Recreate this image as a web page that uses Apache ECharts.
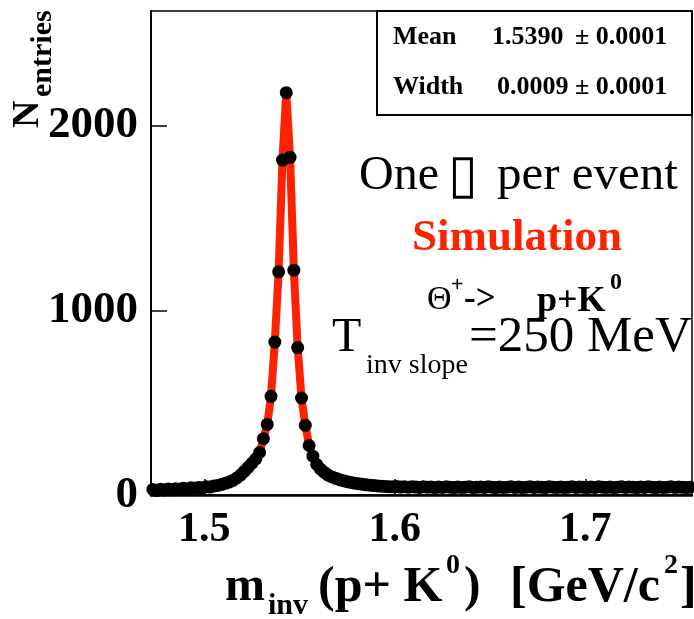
<!DOCTYPE html>
<html>
<head>
<meta charset="utf-8">
<script src="https://cdn.jsdelivr.net/npm/echarts@6/dist/echarts.min.js"></script>
<style>
  html, body { margin: 0; padding: 0; background: #fff; }
  #chart { width: 694px; height: 619px; }
</style>
</head>
<body>
<div id="chart"></div>
<script>
// Histogram binning of the invariant mass (GeV/c^2)
const binLow = 1.472;
const binWidth = 0.002;

// Entries per bin
const counts = [
  30, 24, 31, 27, 33, 28, 34, 31, 36, 33,
  39, 36, 41, 39, 45, 43, 49, 52, 57, 63,
  70, 79, 92, 108, 128, 150, 172, 195, 230, 305,
  382, 534, 828, 1208, 1813, 2178, 1828, 1217, 798, 525,
  377, 268, 210, 165, 140, 122, 108, 98, 90, 83,
  77, 72, 68, 64, 61, 58, 55, 53, 51, 49,
  48, 46, 45, 44, 46, 43, 45, 42, 44, 43,
  41, 44, 42, 43, 40, 43, 41, 44, 42, 40,
  43, 41, 42, 44, 40, 42, 43, 41, 44, 42,
  40, 43, 41, 42, 44, 41, 43, 40, 42, 44,
  41, 43, 42, 40, 44, 42, 41, 43, 40, 42,
  44, 41, 43, 42, 40, 43, 41, 44, 42, 41,
  43, 40, 42, 44, 41, 43, 42, 40, 43, 41,
  44, 42, 40, 43, 41, 42, 44, 41, 43, 42,
  40, 42
];

// Axis ticks
const xTicks = [1.5, 1.6, 1.7];
const yTicks = [0, 1000, 2000];

// Fit statistics
const statRows = [
  { name: 'Mean',  value: '1.5390', err: '\u00b1 0.0001' },
  { name: 'Width', value: '0.0009', err: '\u00b1 0.0001' }
];

const SERIF = '"Liberation Serif", "Times New Roman", serif';
const RED = '#ff2200';

const points = counts.map((c, i) => [binLow + (i + 0.5) * binWidth, c]);

function txt(text, x, y, size, weight, opts) {
  opts = opts || {};
  return {
    type: 'text',
    z: 100,
    style: {
      text: text,
      x: x,
      y: y,
      fontSize: size,
      fontWeight: weight,
      fontFamily: opts.family || SERIF,
      fill: opts.fill || '#000',
      align: opts.align || 'left',
      verticalAlign: 'middle'
    }
  };
}

const graphics = [
  // statistics box
  {
    type: 'rect', z: 90,
    shape: { x: 377, y: 11, width: 315, height: 104 },
    style: { fill: '#fff', stroke: '#000', lineWidth: 2 }
  },
  txt(statRows[0].name, 393, 37, 26, 'bold'),
  txt(statRows[0].value, 492, 37, 26, 'bold'),
  txt(statRows[0].err, 575, 37, 26, 'bold'),
  txt(statRows[1].name, 393, 87, 26, 'bold'),
  txt(statRows[1].value, 497, 87, 26, 'bold'),
  txt(statRows[1].err, 575, 87, 26, 'bold'),

  // annotations
  txt('One', 359, 176, 48, 'normal'),
  txt('\u25af', 448, 178, 54, 'normal', { family: '"DejaVu Sans", sans-serif' }),
  txt('per event', 497, 176, 49, 'normal'),
  txt('Simulation', 412, 238, 45, 'bold', { fill: RED }),
  txt('\u0398', 427, 300, 34, 'normal'),
  txt('+', 451, 285, 22, 'bold'),
  txt('->', 464, 300, 35, 'bold'),
  txt('p+K', 537, 302, 36, 'bold'),
  txt('0', 610, 283, 24, 'bold'),
  txt('T', 332, 338, 48, 'normal'),
  txt('inv slope', 366, 366, 28, 'normal'),
  txt('=250 MeV', 469, 338, 51, 'normal'),

  // x axis title
  txt('m', 225, 588, 48, 'bold'),
  txt('inv', 268, 606, 30, 'bold'),
  txt('(p+ K', 318, 588, 50, 'bold'),
  txt('0', 446, 566, 28, 'bold'),
  txt(')', 464, 588, 50, 'bold'),
  txt('[GeV/c', 510, 588, 50, 'bold'),
  txt('2', 664, 566, 28, 'bold'),
  txt(']', 680, 588, 50, 'bold'),

  // y axis title (reads bottom to top)
  {
    type: 'group',
    x: 28, y: 128,
    rotation: Math.PI / 2,
    children: [
      txt('N', 0, 0, 38, 'bold'),
      txt('entries', 31, 15, 30, 'bold')
    ]
  }
];

const chart = echarts.init(document.getElementById('chart'), null, { renderer: 'canvas' });

chart.setOption({
  animation: false,
  backgroundColor: '#fff',
  grid: {
    left: 151, top: 11, right: 2, bottom: 124,
    show: true, borderColor: '#000', borderWidth: 1.5,
    containLabel: false
  },
  xAxis: {
    type: 'value',
    min: binLow,
    max: 1.756,
    axisLine: { onZero: false, lineStyle: { color: '#000', width: 2.5 } },
    axisTick: { inside: true, length: 16, customValues: xTicks, lineStyle: { color: '#000', width: 1.5 } },
    axisLabel: {
      customValues: xTicks,
      margin: 14,
      fontSize: 42,
      fontWeight: 'bold',
      fontFamily: SERIF,
      color: '#000',
      formatter: v => v.toFixed(1)
    },
    splitLine: { show: false }
  },
  yAxis: {
    type: 'value',
    min: 0,
    max: 2620,
    interval: 1000,
    axisLine: { show: true, lineStyle: { color: '#000', width: 2 } },
    axisTick: { inside: true, length: 16, customValues: yTicks, lineStyle: { color: '#000', width: 1.5 } },
    axisLabel: {
      customValues: yTicks,
      margin: 13,
      fontSize: 45,
      fontWeight: 'bold',
      fontFamily: SERIF,
      color: '#000',
      formatter: v => String(v)
    },
    splitLine: { show: false }
  },
  series: [
    {
      name: 'fit',
      type: 'line',
      data: points,
      showSymbol: false,
      z: 2,
      lineStyle: { color: RED, width: 8 }
    },
    {
      name: 'entries',
      type: 'scatter',
      data: points,
      symbol: 'circle',
      symbolSize: 13,
      z: 3,
      itemStyle: { color: '#000', opacity: 1 }
    }
  ],
  graphic: graphics
});
</script>
</body>
</html>
